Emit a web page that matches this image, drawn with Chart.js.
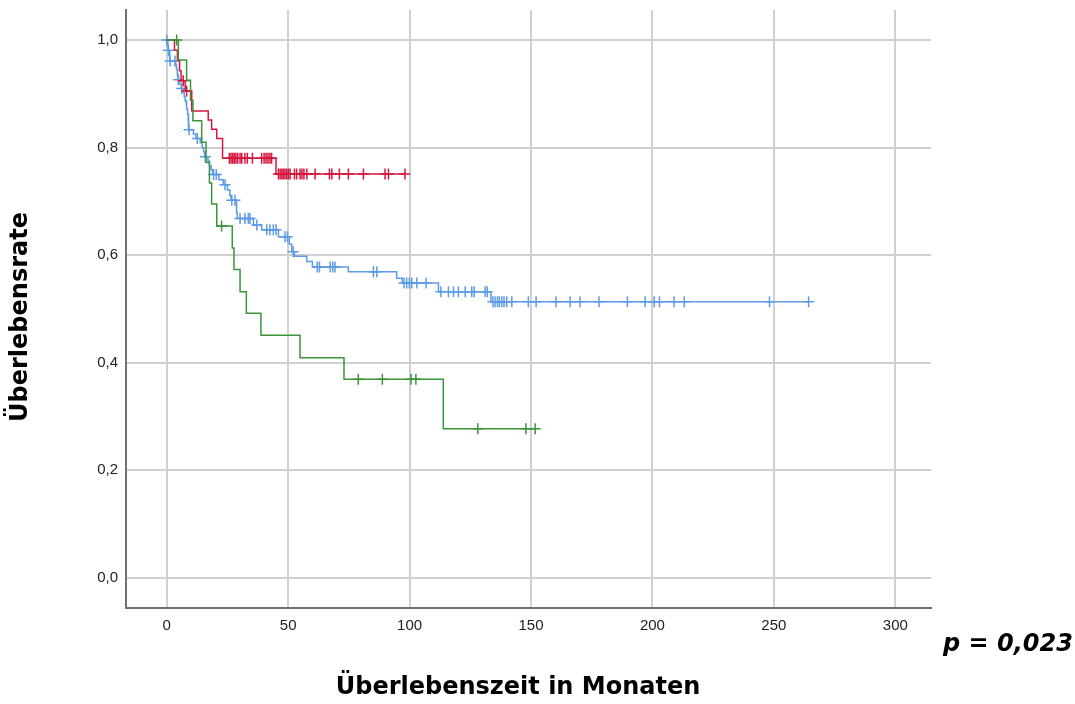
<!DOCTYPE html>
<html><head><meta charset="utf-8">
<script src="https://cdn.jsdelivr.net/npm/chart.js@4.4.1/dist/chart.umd.min.js"></script>
<style>html,body{margin:0;padding:0;background:#fff;} canvas{display:block;}</style>
</head><body>
<canvas id="c" width="1075" height="704" style="width:1075px;height:704px"></canvas>
<script>
// ---- tick labels / texts ----
const xTicks = [0, 50, 100, 150, 200, 250, 300];
const yTicks = [0, 0.2, 0.4, 0.6, 0.8, 1.0];
const xTitle = 'Überlebenszeit in Monaten';
const yTitle = 'Überlebensrate';
const pText = 'p = 0,023';

// ---- red group: event times and survival after each event ----
const redTimes = [3.2, 4.4, 5.3, 5.9, 7.6, 10.3, 17.1, 18.5, 20.6, 23.0, 45.0];
const redSurv  = [0.981, 0.962, 0.943, 0.924, 0.905, 0.868, 0.851, 0.834, 0.817, 0.780, 0.751];
const redCens  = [6.8, 8.2, 25.8, 26.5, 27.2, 27.8, 28.5, 29.2, 30.2, 30.9, 32.2, 33.2, 35.3, 39.1, 40.1, 40.9, 41.7, 42.5, 43.2,
                  46.0, 46.7, 47.4, 48.0, 48.7, 49.4, 50.1, 50.8, 52.6, 53.5, 54.9, 55.7, 56.5, 57.7, 61.1, 67.0, 68.0, 71.1, 74.8, 81.0, 89.9, 91.3, 98.1];

// ---- blue group ----
const blueTimes = [0.5, 0.65, 1.0, 1.3, 1.35, 3.7, 4.0, 4.3, 4.5, 4.7, 5.5, 6.0, 6.8, 7.2, 7.6, 8.0, 8.3, 8.6, 8.8, 9.0, 9.1,
                   11.0, 12.0, 13.8, 14.6, 15.2, 15.6, 17.0, 17.6, 18.3, 18.9, 21.5, 23.3, 25.0, 26.0, 26.5, 28.7, 28.8, 29.0,
                   35.7, 39.1, 46.0, 50.5, 51.5, 52.6, 57.7, 60.0, 74.8, 94.7, 97.0, 111.9, 133.5];
const blueSurv  = [0.987, 0.981, 0.974, 0.967, 0.961, 0.954, 0.947, 0.940, 0.933, 0.926, 0.918, 0.910, 0.903, 0.895, 0.887, 0.879, 0.871, 0.863, 0.855, 0.847, 0.833,
                   0.825, 0.817, 0.809, 0.800, 0.792, 0.783, 0.775, 0.766, 0.758, 0.750, 0.740, 0.731, 0.721, 0.711, 0.702, 0.690, 0.679, 0.668,
                   0.656, 0.647, 0.634, 0.620, 0.606, 0.598, 0.588, 0.578, 0.569, 0.557, 0.548, 0.532, 0.513];
const blueCens  = [0, 0.7, 1.4, 3.4, 4.8, 6.2, 9.2, 12.6, 15.9, 19.3, 20.4, 24.0, 26.8, 28.1, 30.2, 32.2, 33.6, 34.3, 37.1,
                   41.2, 42.5, 43.9, 45.0, 48.7, 49.7, 52.1, 62.0, 62.9, 67.3, 68.4, 69.3, 85.1, 86.5,
                   97.7, 98.8, 99.9, 100.9, 103.0, 106.8, 112.9, 116.0, 118.1, 120.1, 122.9, 125.6, 126.6, 131.1, 132.0,
                   134.3, 135.2, 136.2, 137.0, 138.0, 138.9, 140.0, 142.1, 148.9, 152.1, 160.3, 166.1, 170.2, 178.0,
                   189.7, 197.0, 200.7, 202.9, 208.9, 213.1, 248.2, 264.3];

// ---- green group ----
const greenTimes = [4.8, 8.2, 9.8, 10.8, 14.4, 16.2, 17.6, 18.5, 20.6, 27.0, 27.7, 30.2, 32.8, 38.8, 54.9, 73.0, 113.9];
const greenSurv  = [0.963, 0.925, 0.888, 0.850, 0.810, 0.772, 0.734, 0.695, 0.654, 0.613, 0.573, 0.532, 0.492, 0.451, 0.409, 0.369, 0.277];
const greenCens  = [4.1, 22.6, 78.9, 88.8, 100.6, 102.6, 128.1, 147.9, 151.7];

const RED = '#d5173f', BLUE = '#5d9be6', GREEN = '#3a943a';

function buildLine(times, surv, endT) {
  const pts = [{x: 0, y: 1}];
  let prev = 1;
  times.forEach((t, i) => { pts.push({x: t, y: prev}); pts.push({x: t, y: surv[i]}); prev = surv[i]; });
  pts.push({x: Math.max(endT, times[times.length - 1]), y: prev});
  return pts;
}
function survAt(times, surv, t) {
  let s = 1;
  for (let i = 0; i < times.length; i++) if (times[i] <= t) s = surv[i];
  return s;
}
function censPts(times, surv, cens) { return cens.map(t => ({x: t, y: survAt(times, surv, t)})); }

function lineDs(times, surv, cens, color, order) {
  return {data: buildLine(times, surv, Math.max(...cens)), showLine: true, borderColor: color,
          borderWidth: 1.5, pointRadius: 0, order: order, fill: false};
}
function censDs(times, surv, cens, color, order) {
  return {data: censPts(times, surv, cens), showLine: false, pointStyle: 'cross', pointRadius: 5.5,
          borderColor: color, pointBorderColor: color, pointBorderWidth: 1.5, order: order};
}

const titlePlugin = {
  id: 'kmTitles',
  afterDraw(chart) {
    const ctx = chart.ctx;
    ctx.save();
    ctx.fillStyle = '#000';
    ctx.font = 'bold 24px "DejaVu Sans"';
    ctx.textAlign = 'center';
    ctx.textBaseline = 'middle';
    ctx.fillText(xTitle, 518, 688);
    ctx.translate(21, 317);
    ctx.rotate(-Math.PI / 2);
    ctx.fillText(yTitle, 0, 0);
    ctx.restore();
    ctx.save();
    ctx.fillStyle = '#000';
    ctx.font = 'italic bold 24px "DejaVu Sans"';
    ctx.textAlign = 'left';
    ctx.textBaseline = 'alphabetic';
    ctx.fillText(pText, 943, 651);
    ctx.restore();
  }
};

const tickFont = {family: '"Liberation Sans", Arial, sans-serif', size: 15};

new Chart(document.getElementById('c'), {
  type: 'scatter',
  data: {
    datasets: [
      lineDs(blueTimes, blueSurv, blueCens, BLUE, 6),
      censDs(blueTimes, blueSurv, blueCens, BLUE, 5),
      lineDs(redTimes, redSurv, redCens, RED, 4),
      censDs(redTimes, redSurv, redCens, RED, 3),
      lineDs(greenTimes, greenSurv, greenCens, GREEN, 2),
      censDs(greenTimes, greenSurv, greenCens, GREEN, 1)
    ]
  },
  options: {
    responsive: false,
    animation: false,
    events: [],
    devicePixelRatio: 1,
    layout: {padding: {left: 0, right: 144, top: 10, bottom: 0}},
    plugins: {legend: {display: false}, tooltip: {enabled: false}},
    scales: {
      x: {
        type: 'linear', min: -16.76, max: 314.7,
        afterBuildTicks: s => { s.ticks = xTicks.map(v => ({value: v})); },
        afterFit: s => { s.height = 96; s.paddingLeft = 0; s.paddingRight = 0; },
        grid: {color: '#d0d0d0', lineWidth: 2, drawTicks: false},
        border: {display: true, color: '#707070', width: 2},
        ticks: {padding: 9, color: '#222', font: tickFont, maxRotation: 0, autoSkip: false,
                callback: v => String(v)}
      },
      y: {
        type: 'linear', min: -0.0564, max: 1.0558,
        afterBuildTicks: s => { s.ticks = yTicks.map(v => ({value: v})); },
        afterFit: s => { s.width = 126; s.paddingTop = 0; s.paddingBottom = 0; },
        grid: {color: '#d0d0d0', lineWidth: 2, drawTicks: false},
        border: {display: true, color: '#707070', width: 2},
        ticks: {padding: 8, color: '#222', font: tickFont,
                callback: v => Number(v).toFixed(1).replace('.', ',')}
      }
    }
  },
  plugins: [titlePlugin]
});
</script>
</body></html>
